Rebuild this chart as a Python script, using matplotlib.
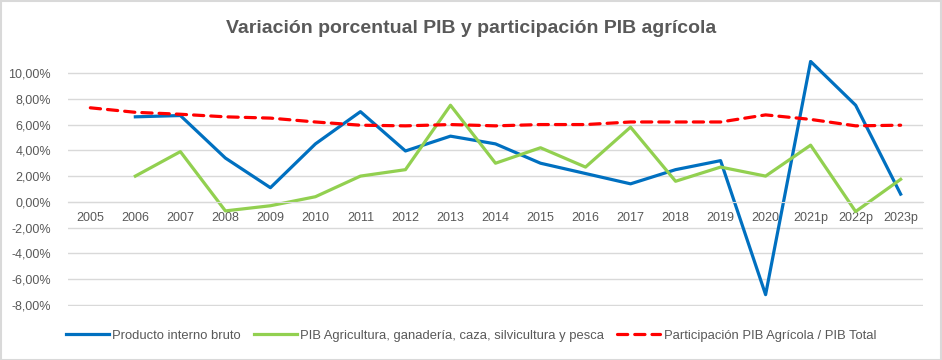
import matplotlib
matplotlib.use("Agg")
import matplotlib.pyplot as plt
from matplotlib.patches import Rectangle
from matplotlib.ticker import FuncFormatter

plt.rcParams['font.family'] = ['Liberation Sans', 'DejaVu Sans']

years = ['2005', '2006', '2007', '2008', '2009', '2010', '2011', '2012', '2013', '2014',
         '2015', '2016', '2017', '2018', '2019', '2020', '2021p', '2022p', '2023p']
pib_total = [None, 6.6, 6.7, 3.4, 1.1, 4.5, 7.0, 3.95, 5.1, 4.5,
             3.0, 2.2, 1.4, 2.5, 3.2, -7.2, 10.9, 7.5, 0.6]
pib_agro = [None, 2.0, 3.9, -0.7, -0.3, 0.4, 2.0, 2.5, 7.5, 3.0,
            4.2, 2.7, 5.8, 1.6, 2.7, 2.0, 4.4, -0.75, 1.75]
participacion = [7.3, 6.95, 6.8, 6.6, 6.5, 6.2, 5.95, 5.9, 6.0, 5.9,
                 6.0, 6.0, 6.2, 6.2, 6.2, 6.75, 6.4, 5.9, 5.95]

grey = '#595959'
x = list(range(len(years)))

fig = plt.figure(figsize=[9.42, 3.6], dpi=100)
fig.patches.append(Rectangle((0.001, 0.001), 0.998, 0.996, transform=fig.transFigure,
                             fill=False, edgecolor='#d9d9d9', linewidth=1.5))
ax = fig.add_axes([0.072, 0.150, 0.908, 0.683])

ax.plot(x, pib_total, '-', color='#0070C0', linewidth=2.3, label='Producto interno bruto')
ax.plot(x, pib_agro, '-', color='#92D050', linewidth=2.3,
        label='PIB Agricultura, ganadería, caza, silvicultura y pesca')
ax.plot(x, participacion, '--', color='#FF0000', linewidth=2.3, dashes=(3.2, 2.2),
        dash_capstyle='round', label='Participación PIB Agrícola / PIB Total')

ax.set_xlim(-0.5, len(years) - 0.5)
ax.set_ylim(-8.08, 11)
ax.set_yticks(range(-8, 11, 2))
ax.yaxis.set_major_formatter(FuncFormatter(lambda v, p: ('%.2f%%' % v).replace('.', ',')))
ax.set_xticks(x)
ax.set_xticklabels(years)
ax.grid(True, axis='y', color='#d9d9d9', linewidth=1)
ax.set_axisbelow(True)
for s in ['top', 'right', 'left']:
    ax.spines[s].set_visible(False)
ax.spines['bottom'].set_position(('data', 0))
ax.spines['bottom'].set_color('#d9d9d9')
ax.tick_params(axis='both', length=0, labelcolor=grey, labelsize=9)
ax.tick_params(axis='x', pad=7)
ax.tick_params(axis='y', pad=12)

fig.text(0.5, 0.922, 'Variación porcentual PIB y participación PIB agrícola',
         ha='center', va='center', fontsize=14, color=grey, fontweight='bold')

leg = fig.legend(loc='center', bbox_to_anchor=(0.5, 0.067), ncol=3, frameon=False,
                 fontsize=9.4, handlelength=3.3, columnspacing=1.0, handletextpad=0.25)
for t in leg.get_texts():
    t.set_color(grey)

fig.savefig('out.png', dpi=100)
